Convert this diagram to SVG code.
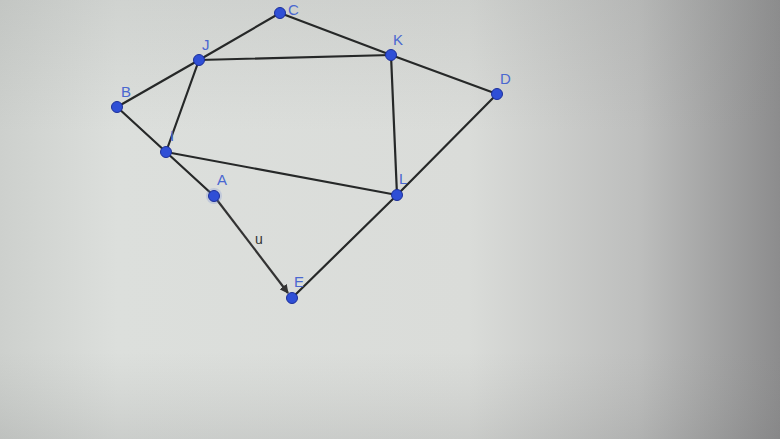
<svg xmlns="http://www.w3.org/2000/svg" width="780" height="439" viewBox="0 0 780 439">
<defs>
<linearGradient id="bg" x1="0" y1="0" x2="1" y2="0">
<stop offset="0" stop-color="#cdd0cd"/>
<stop offset="0.15" stop-color="#dcdfdc"/>
<stop offset="0.6" stop-color="#dadcd9"/>
<stop offset="0.82" stop-color="#bdbebd"/>
<stop offset="1" stop-color="#8c8c8d"/>
</linearGradient>
<linearGradient id="shade" x1="0" y1="0" x2="0" y2="1">
<stop offset="0" stop-color="#8a8d8b" stop-opacity="0.15"/>
<stop offset="0.3" stop-color="#8a8d8b" stop-opacity="0"/>
<stop offset="0.8" stop-color="#8a8d8b" stop-opacity="0"/>
<stop offset="1" stop-color="#6a6b6c" stop-opacity="0.15"/>
</linearGradient>
<marker id="arr" viewBox="0 0 10 10" refX="9" refY="5" markerWidth="9" markerHeight="9" orient="auto" markerUnits="userSpaceOnUse">
<path d="M0,0 L10,5 L0,10 z" fill="#333"/>
</marker>
<style>
.e{stroke:#262828;stroke-width:2.2;fill:none;stroke-linecap:round}
.p{fill:#2f4fd6;stroke:#1c2f9a;stroke-width:1}
.t{font-family:"Liberation Sans",Arial,sans-serif;font-size:15px;fill:#4a68d0}
.u{font-family:"Liberation Sans",Arial,sans-serif;font-size:14px;fill:#333333}
</style>
</defs>
<rect width="780" height="439" fill="url(#bg)"/>
<rect width="780" height="439" fill="url(#shade)"/>
<g id="connectors">
<line class="e" x1="117" y1="107" x2="199" y2="60"/>
<line class="e" x1="199" y1="60" x2="280" y2="13"/>
<line class="e" x1="280" y1="13" x2="391" y2="55"/>
<line class="e" x1="391" y1="55" x2="497" y2="94"/>
<line class="e" x1="497" y1="94" x2="397" y2="195"/>
<line class="e" x1="397" y1="195" x2="292" y2="298"/>
<line class="e" x1="117" y1="107" x2="166" y2="152"/>
<line class="e" x1="166" y1="152" x2="214" y2="196"/>
<line class="e" x1="199" y1="60" x2="391" y2="55"/>
<line class="e" x1="199" y1="60" x2="166" y2="152"/>
<line class="e" x1="391" y1="55" x2="397" y2="195"/>
<line class="e" x1="166" y1="152" x2="397" y2="195"/>
<line id="vec-u" x1="214" y1="196" x2="288" y2="293" stroke="#333" stroke-width="2.2" marker-end="url(#arr)"/>
<text class="u" x="255" y="244">u</text>
</g>
<g id="node-C"><circle class="p" cx="280" cy="13" r="5.5"/><text class="t" x="288" y="15">C</text></g>
<g id="node-J"><circle class="p" cx="199" cy="60" r="5.5"/><text class="t" x="202" y="50">J</text></g>
<g id="node-K"><circle class="p" cx="391" cy="55" r="5.5"/><text class="t" x="393" y="45">K</text></g>
<g id="node-D"><circle class="p" cx="497" cy="94" r="5.5"/><text class="t" x="500" y="84">D</text></g>
<g id="node-B"><circle class="p" cx="117" cy="107" r="5.5"/><text class="t" x="121" y="97">B</text></g>
<g id="node-I"><circle class="p" cx="166" cy="152" r="5.5"/><text class="t" x="170" y="141">I</text></g>
<g id="node-A"><circle cx="214" cy="196" r="8" fill="#6f86d6" opacity="0.25"/><circle class="p" cx="214" cy="196" r="5.5"/><text class="t" x="217" y="185">A</text></g>
<g id="node-L"><circle class="p" cx="397" cy="195" r="5.5"/><text class="t" x="399" y="184">L</text></g>
<g id="node-E"><circle class="p" cx="292" cy="298" r="5.5"/><text class="t" x="294" y="287">E</text></g>
</svg>
